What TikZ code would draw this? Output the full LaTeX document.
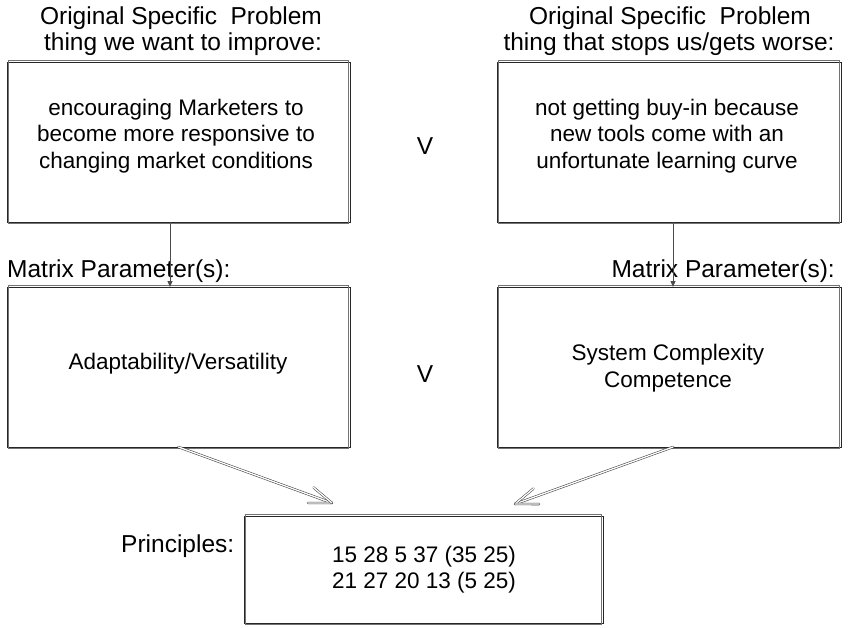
\documentclass[tikz,border=0pt]{standalone}
\usepackage{fontspec}
\setmainfont{Liberation Sans}
\usetikzlibrary{arrows.meta,calc}
\newcommand{\dframe}[1]{%
  \draw[draw=black!85, line width=0.7pt] (#1.south west) rectangle (#1.north east);
  \draw[draw=black!55, line width=0.6pt] ($(#1.south west)+(1.7pt,-1.7pt)$) rectangle ($(#1.north east)+(-1.7pt,1.7pt)$);}
\begin{document}
\begin{tikzpicture}[x=1pt,y=-1pt,
  dbox/.style={rectangle, inner sep=0pt, outer sep=0pt},
  lbl/.style={font=\fontsize{24.5}{26}\selectfont, anchor=base, inner sep=0pt, align=center},
  txt/.style={font=\fontsize{22.5}{26.5}\selectfont, inner sep=0pt, align=center},
  thinarrow/.style={draw=black!70, line width=0.8pt, -{Triangle[length=6pt,width=5pt]}},
  dblline/.style={draw=black!75, line width=0.55pt, double=white, double distance=1.3pt, line cap=round}
]
\useasboundingbox (0,0) rectangle (856,628);
% boxes
\node[dbox, minimum width=343pt, minimum height=160pt] (tl) at (178.5,142) {};
\node[dbox, minimum width=344pt, minimum height=160pt] (tr) at (669,142) {};
\node[dbox, minimum width=343pt, minimum height=160pt] (ml) at (178.5,367) {};
\node[dbox, minimum width=344pt, minimum height=160pt] (mr) at (669,367) {};
\node[dbox, minimum width=359pt, minimum height=107pt] (bt) at (423.5,569.5) {};
\dframe{tl}\dframe{tr}\dframe{ml}\dframe{mr}\dframe{bt}
% header labels
\node[lbl] (h1) at (181,25) {Original Specific\ \ Problem};
\node[lbl] (h2) at (183,51) {thing we want to improve:};
\node[lbl] (h3) at (670,25) {Original Specific\ \ Problem};
\node[lbl] (h4) at (669,51) {thing that stops us/gets worse:};
% box texts
\node[txt] (t1) at (176,136) {encouraging Marketers to\\become more responsive to\\changing market conditions};
\node[txt] (t2) at (667,136) {not getting buy-in because\\new tools come with an\\unfortunate learning curve};
\node[txt, anchor=base] (t3) at (178,369) {Adaptability/Versatility};
\node[txt, anchor=base] (t4a) at (668,360) {System Complexity};
\node[txt, anchor=base] (t4b) at (668,387) {Competence};
\node[txt, anchor=base] (t5a) at (424,562) {15 28 5 37 (35 25)};
\node[txt, anchor=base] (t5b) at (424,588) {21 27 20 13 (5 25)};
% V labels
\node[lbl] (v1) at (425,155) {V};
\node[lbl] (v2) at (425,382) {V};
% side labels
\node[lbl, anchor=base west] (mp1) at (7,277) {Matrix Parameter(s):};
\node[lbl, anchor=base east] (mp2) at (835,277) {Matrix Parameter(s):};
\node[lbl, anchor=base west] (pr) at (121,552) {Principles:};
% thin arrows
\coordinate (xa) at (170,0);
\coordinate (xb) at (673,0);
\draw[thinarrow] (tl.south -| xa) -- (ml.north -| xa);
\draw[thinarrow] (tr.south -| xb) -- (mr.north -| xb);
% double arrows
\coordinate (e1) at (332,503);
\coordinate (e2) at (515,504);
\coordinate (s2) at (mr.south -| xb);
\draw[dblline] (ml.south) -- (e1);
\draw[dblline] (e1) -- ($(e1)!24pt!20:(ml.south)$);
\draw[dblline] (e1) -- ($(e1)!24pt!-20:(ml.south)$);
\draw[dblline] (s2) -- (e2);
\draw[dblline] (e2) -- ($(e2)!24pt!20:(s2)$);
\draw[dblline] (e2) -- ($(e2)!24pt!-20:(s2)$);
\end{tikzpicture}
\end{document}
